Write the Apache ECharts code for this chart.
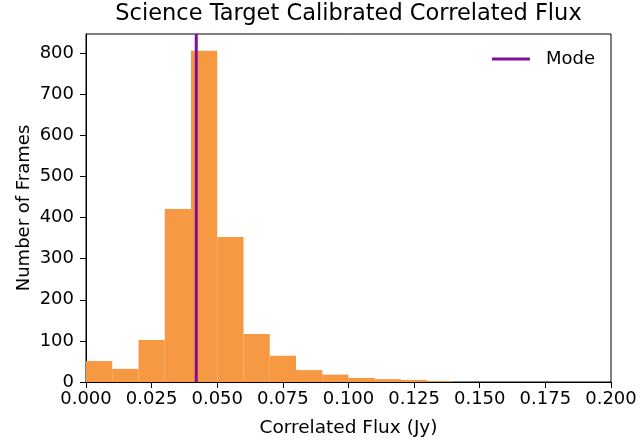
<!DOCTYPE html>
<html>
<head>
<meta charset="utf-8">
<script src="https://cdn.jsdelivr.net/npm/echarts@6/dist/echarts.min.js"></script>
<style>
  html, body { margin: 0; padding: 0; background: #fff; }
  #chart { width: 641px; height: 443px; }
</style>
</head>
<body>
<div id="chart"></div>
<script>
// Histogram of correlated flux (bin edges in Jy) and frame counts per bin
const binEdges = [0.00, 0.01, 0.02, 0.03, 0.04, 0.05, 0.06, 0.07, 0.08, 0.09, 0.10, 0.11, 0.12, 0.13, 0.14];
const frameCounts = [51, 32, 102, 421, 806, 353, 117, 64, 29, 18, 10, 7, 5, 2];
const modeFlux = 0.042;
const xTicks = [0, 0.025, 0.05, 0.075, 0.1, 0.125, 0.15, 0.175, 0.2];
const yMax = 847;

const histData = frameCounts.map((c, i) => [binEdges[i], binEdges[i + 1], c]);

const font = 'DejaVu Sans';
const gridBox = { left: 86, right: 30, top: 34, bottom: 61 };
const chartWidth = 641;
const chart = echarts.init(document.getElementById('chart'));
chart.setOption({
  animation: false,
  backgroundColor: '#ffffff',
  // title centred over the plotting area rather than the whole canvas
  graphic: [{
    type: 'text',
    x: gridBox.left + (chartWidth - gridBox.left - gridBox.right) / 2,
    y: 3,
    style: {
      text: 'Science Target Calibrated Correlated Flux',
      fontFamily: font, fontSize: 22.5, fill: '#000',
      align: 'center', verticalAlign: 'top'
    }
  }],
  legend: {
    data: ['Mode'],
    right: 46,
    top: 50,
    itemWidth: 38,
    itemHeight: 3,
    icon: 'rect',
    padding: 0,
    textStyle: { fontFamily: font, fontSize: 18, color: '#000', padding: [0, 0, 0, 11] }
  },
  grid: Object.assign({
    show: true, borderColor: '#000', borderWidth: 1, backgroundColor: 'transparent'
  }, gridBox),
  xAxis: {
    type: 'value',
    min: xTicks[0],
    max: xTicks[xTicks.length - 1],
    interval: 0.025,
    name: 'Correlated Flux (Jy)',
    nameLocation: 'middle',
    nameGap: 37,
    nameMoveOverlap: false,
    nameTextStyle: { fontFamily: font, fontSize: 18.5, color: '#000' },
    axisLine: { show: true, lineStyle: { color: '#000', width: 1 } },
    axisTick: { show: true, length: 6, lineStyle: { color: '#000' } },
    axisLabel: {
      fontFamily: font, fontSize: 18, color: '#000', margin: 8,
      formatter: v => v.toFixed(3)
    },
    splitLine: { show: false }
  },
  yAxis: {
    type: 'value',
    min: 0,
    max: yMax,
    interval: 100,
    name: 'Number of Frames',
    nameLocation: 'middle',
    nameGap: 53,
    nameMoveOverlap: false,
    nameTextStyle: { fontFamily: font, fontSize: 18, color: '#000' },
    axisLine: { show: true, lineStyle: { color: '#000', width: 1 } },
    axisTick: { show: true, length: 6, lineStyle: { color: '#000' } },
    axisLabel: { fontFamily: font, fontSize: 18, color: '#000', margin: 12, showMaxLabel: false },
    splitLine: { show: false }
  },
  series: [
    {
      name: 'Counts',
      type: 'custom',
      data: histData,
      encode: { x: [0, 1], y: 2 },
      renderItem: function (params, api) {
        const p0 = api.coord([api.value(0), api.value(2)]);
        const p1 = api.coord([api.value(1), 0]);
        return {
          type: 'rect',
          shape: { x: p0[0], y: p0[1], width: p1[0] - p0[0], height: p1[1] - p0[1] },
          style: { fill: '#F79843' }
        };
      },
      z: 1
    },
    {
      name: 'Mode',
      type: 'line',
      data: [[modeFlux, 0], [modeFlux, yMax]],
      symbol: 'none',
      lineStyle: { color: '#7F0F99', width: 3 },
      itemStyle: { color: '#7F0F99' },
      z: 3
    }
  ]
});
</script>
</body>
</html>
